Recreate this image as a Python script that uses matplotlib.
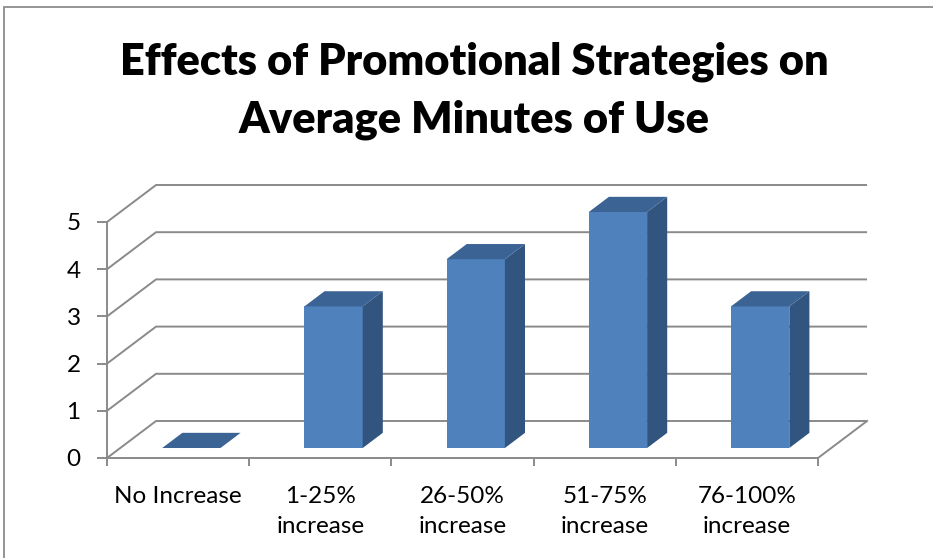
import matplotlib.pyplot as plt
from matplotlib.patches import Polygon, Rectangle

categories = ["No Increase", "1-25%\nincrease", "26-50%\nincrease", "51-75%\nincrease", "76-100%\nincrease"]
values = [0, 3, 4, 5, 3]
y_ticks = [0, 1, 2, 3, 4, 5]
title = "Effects of Promotional Strategies on\nAverage Minutes of Use"

# oblique "3D" look: depth offset of the floor in data units
DX = 0.345
DY = 0.784
bar_w = 0.41
z_front, z_back = 0.27, 0.68

grid_color = "#8a8a8a"
front_color = "#4f81bd"
side_color = "#32557f"
top_color = "#3b6394"

W, H = 933, 558
fig = plt.figure(figsize=(W / 100, H / 100), dpi=100)
plt.rcParams["font.family"] = ["Lato", "DejaVu Sans"]

# outer chart border
fig.patches.append(Rectangle((4 / W, -0.1), 1.2, (H - 7) / H + 0.1, transform=fig.transFigure,
                             fill=False, edgecolor="#8c8c8c", linewidth=1.3))

x_unit, y_unit = 142.2, 47.2
ax = fig.add_axes([107 / W, 100 / H, (5 + DX + 0.05) * x_unit / W, (5 + DY + 0.1) * y_unit / H])
ax.set_xlim(0, 5 + DX + 0.05)
ax.set_ylim(0, 5 + DY + 0.1)
ax.patch.set_visible(False)

# side wall and back wall gridlines
for v in y_ticks:
    ax.plot([0, DX, 5 + DX], [v, v + DY, v + DY], color=grid_color, lw=1.4, zorder=1,
            solid_capstyle="butt", clip_on=False)
ax.plot([5, 5 + DX], [0, DY], color=grid_color, lw=1.4, zorder=1, clip_on=False)

# bars
d = z_back - z_front
for i, v in enumerate(values):
    cx = i + 0.5 + z_front * DX
    x0, x1 = cx - bar_w / 2, cx + bar_w / 2
    y0 = z_front * DY
    ddx, ddy = d * DX, d * DY
    front = Polygon([(x0, y0), (x1, y0), (x1, y0 + v), (x0, y0 + v)], closed=True,
                    facecolor=front_color, edgecolor="none", zorder=3)
    side = Polygon([(x1, y0), (x1 + ddx, y0 + ddy), (x1 + ddx, y0 + v + ddy), (x1, y0 + v)],
                   closed=True, facecolor=side_color, edgecolor="none", zorder=3)
    top = Polygon([(x0, y0 + v), (x1, y0 + v), (x1 + ddx, y0 + v + ddy), (x0 + ddx, y0 + v + ddy)],
                  closed=True, facecolor=top_color, edgecolor="none", zorder=3)
    for p in (front, side, top):
        ax.add_patch(p)

# axes styling
for s in ["top", "right"]:
    ax.spines[s].set_visible(False)
for s in ["left", "bottom"]:
    ax.spines[s].set_color(grid_color)
    ax.spines[s].set_linewidth(1.4)
    ax.spines[s].set_bounds(0, 5)

ax.set_yticks(y_ticks)
ax.set_yticklabels([str(t) for t in y_ticks])
ax.tick_params(axis="y", direction="out", length=7, width=1.4, color=grid_color,
               labelsize=17.5, pad=12, labelcolor="black")

ax.set_xticks(range(6))
ax.set_xticklabels([""] * 6)
ax.set_xticks([i + 0.5 for i in range(5)], minor=True)
ax.set_xticklabels(categories, minor=True)
ax.tick_params(axis="x", which="major", direction="out", length=6, width=1.4, color=grid_color)
ax.tick_params(axis="x", which="minor", length=0, labelsize=17.5, pad=20, labelcolor="black")
for lbl in ax.get_xticklabels(minor=True):
    lbl.set_linespacing(1.55)

fig.text(474 / W, 1 - 42 / H, title, ha="center", va="top", fontsize=31.2, fontweight="heavy",
         linespacing=1.52)

fig.savefig("out.png", dpi=100)
